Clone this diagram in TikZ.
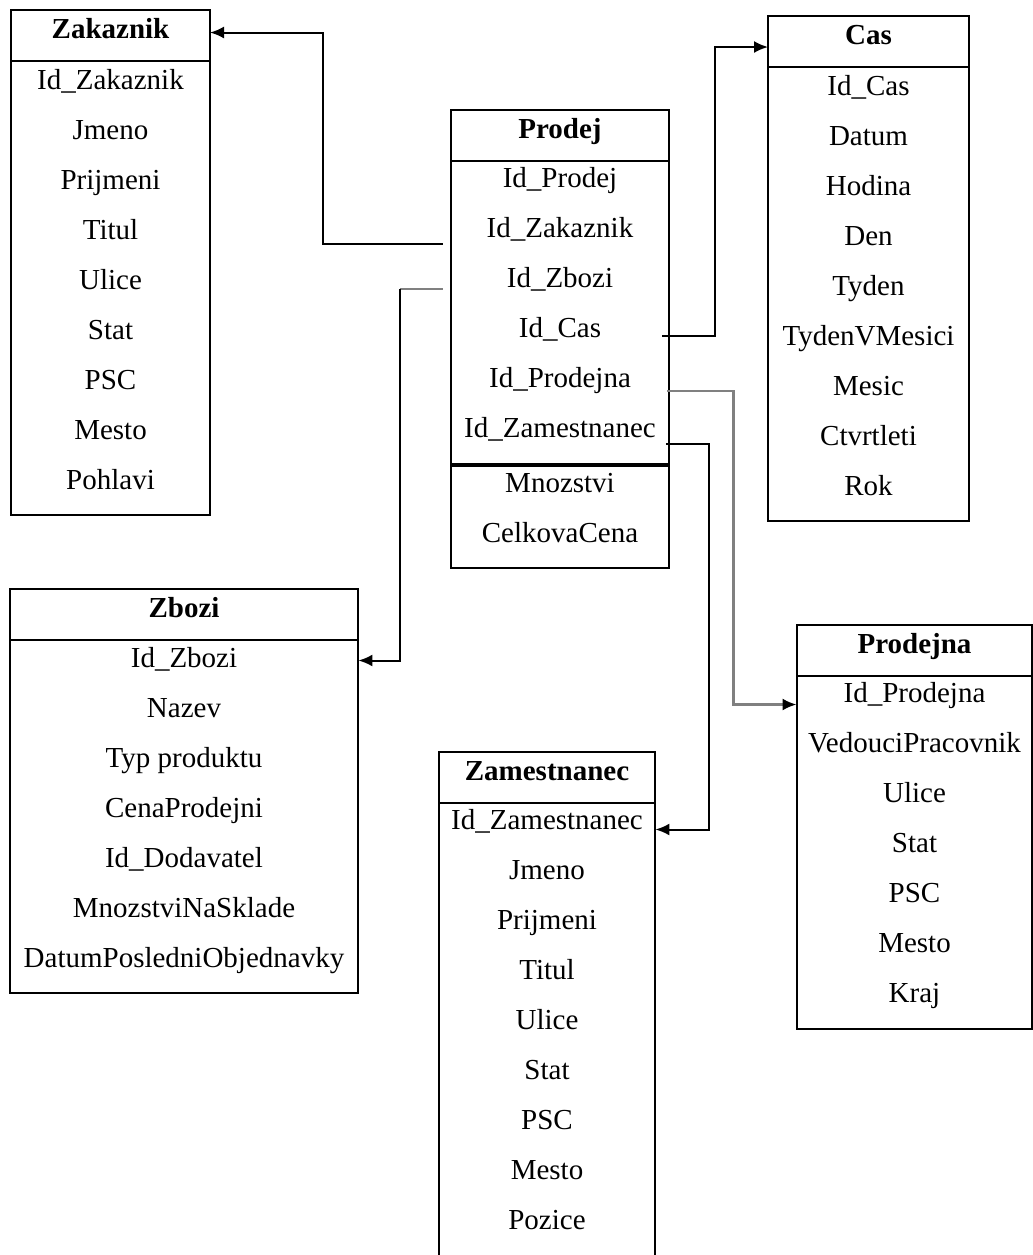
\documentclass[tikz,border=0pt]{standalone}
\usepackage{fontspec}
\setmainfont{Liberation Serif}
\usetikzlibrary{arrows.meta, positioning}

\tikzset{
  tblhead/.style={draw, line width=1pt, outer sep=0pt, anchor=north west, minimum width=#1, inner xsep=0pt, inner ysep=1.5pt, text height=12.5pt, text depth=10pt, font=\fontsize{14.5}{17}\selectfont\bfseries},
  tblbody/.style={draw, line width=1pt, outer sep=0pt, inner sep=0pt, below=0pt of #1},
  field/.style={anchor=base, minimum width=#1, inner xsep=0pt, inner ysep=1pt, font=\fontsize{14.5}{17}\selectfont},
  link/.style={line width=1pt, -{Latex[length=7pt,width=6pt,black]}},
  graylink/.style={line width=1.3pt, black!50},
}

\begin{document}
\begin{tikzpicture}[x=0.5pt, y=-0.5pt]
\useasboundingbox (0,0) rectangle (1033,1255);
\clip (0,0) rectangle (1033,1255);

% Zakaznik
\node[tblhead=99.5pt] (zakaznik) at (11,10) {Zakaznik};
\node[tblbody=zakaznik, minimum width=99.5pt, minimum height=227pt] (zakaznik-body) {};
\foreach \t [count=\i] in {Id\_Zakaznik, Jmeno, Prijmeni, Titul, Ulice, Stat, PSC, Mesto, Pohlavi}
  \node[field=99.5pt] (zak-\i) at (110.5,{39.5+50*\i}) {\t};

% Prodej
\node[tblhead=109pt] (prodej) at (451,110) {Prodej};
\node[tblbody=prodej, minimum width=109pt, minimum height=152pt] (prodej-keys) {};
\node[tblbody=prodej-keys, minimum width=109pt, minimum height=51.5pt] (prodej-meas) {};
\draw[line width=1.8pt] (prodej-keys.south west) -- (prodej-keys.south east);
\foreach \t [count=\i] in {Id\_Prodej, Id\_Zakaznik, Id\_Zbozi, Id\_Cas, Id\_Prodejna, Id\_Zamestnanec}
  \node[field=109pt] (prodej-\i) at (560,{137+50*\i}) {\t};
\node[field=109pt] (prodej-7) at (560,492) {Mnozstvi};
\node[field=109pt] (prodej-8) at (560,542) {CelkovaCena};

% Cas
\node[tblhead=100.5pt] (cas) at (768,16) {Cas};
\node[tblbody=cas, minimum width=100.5pt, minimum height=227pt] (cas-body) {};
\foreach \t [count=\i] in {Id\_Cas, Datum, Hodina, Den, Tyden, TydenVMesici, Mesic, Ctvrtleti, Rok}
  \node[field=100.5pt] (cas-\i) at (868.5,{45+50*\i}) {\t};

% Zbozi
\node[tblhead=174pt] (zbozi) at (10,589) {Zbozi};
\node[tblbody=zbozi, minimum width=174pt, minimum height=176.5pt] (zbozi-body) {};
\foreach \t [count=\i] in {Id\_Zbozi, Nazev, Typ produktu, CenaProdejni, Id\_Dodavatel, MnozstviNaSklade, DatumPosledniObjednavky}
  \node[field=174pt] (zbozi-\i) at (184,{617+50*\i}) {\t};

% Prodejna
\node[tblhead=117.5pt] (prodejna) at (797,625) {Prodejna};
\node[tblbody=prodejna, minimum width=117.5pt, minimum height=176.5pt] (prodejna-body) {};
\foreach \t [count=\i] in {Id\_Prodejna, VedouciPracovnik, Ulice, Stat, PSC, Mesto, Kraj}
  \node[field=117.5pt] (prodejna-\i) at (914.5,{652.5+50*\i}) {\t};

% Zamestnanec
\node[tblhead=108pt] (zamestnanec) at (439,752) {Zamestnanec};
\node[tblbody=zamestnanec, minimum width=108pt, minimum height=240pt] (zamestnanec-body) {};
\foreach \t [count=\i] in {Id\_Zamestnanec, Jmeno, Prijmeni, Titul, Ulice, Stat, PSC, Mesto, Pozice}
  \node[field=108pt] (zam-\i) at (547,{779.5+50*\i}) {\t};

% vazby
\draw[link] ([xshift=-4pt,yshift=-3.5pt]prodej-2.base west) -- ++(-120,0) |- ([yshift=1.5pt]zakaznik.east);
\draw[graylink] ([xshift=-4pt,yshift=-1pt]prodej-3.base west) -- ++(-43,0) coordinate (zb-turn);
\draw[link] (zb-turn) |- ([yshift=3.25pt]zbozi-1.base east);
\draw[link] ([xshift=-3.5pt,yshift=0.5pt]prodej-4.base east) -- ++(53,0) |- ([yshift=-2.75pt]cas.west);
\draw[link, graylink] ([xshift=-1pt,yshift=-2pt]prodej-5.base east) -- ++(66,0) |- ([yshift=-1pt]prodejna-1.base west);
\draw[link] ([xshift=-1.5pt,yshift=-3.5pt]prodej-6.base east) -- ++(43,0) |- (zam-1.base east);
\end{tikzpicture}
\end{document}
